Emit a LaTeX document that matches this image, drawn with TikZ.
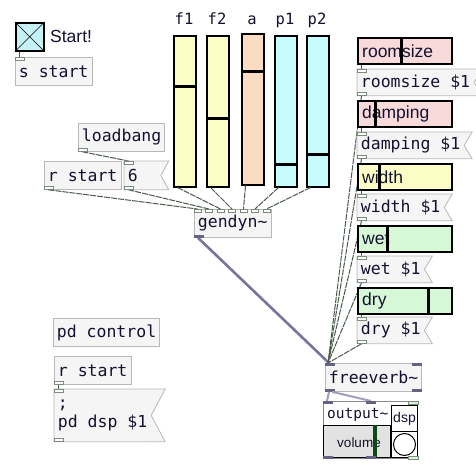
\documentclass[tikz,border=0pt]{standalone}
\usepackage{fontspec}
\usepackage{xcolor}
\usepackage{tikz}
\newfontfamily\pdmono{DejaVu Sans Mono}
\newfontfamily\pdsans{Liberation Sans}

\definecolor{boxfill}{HTML}{F5F5F5}
\definecolor{boxline}{HTML}{B8B8B8}
\definecolor{ink}{HTML}{121230}
\definecolor{wire}{HTML}{4A5A4A}
\definecolor{sigwire}{HTML}{77759A}
\definecolor{nubline}{HTML}{7C8C7C}
\definecolor{yel}{HTML}{FCFCC6}
\definecolor{peach}{HTML}{F9DCC2}
\definecolor{aqua}{HTML}{C6FCFC}
\definecolor{rose}{HTML}{F9DADA}
\definecolor{mint}{HTML}{D6F8D6}
\definecolor{tglfill}{HTML}{C6F2F6}
\definecolor{volfill}{HTML}{E2E2E2}
\definecolor{volknob}{HTML}{0B4A12}
\definecolor{gopline}{HTML}{8A8A8A}
\definecolor{outnub}{HTML}{DDF2DD}

\tikzset{
  obj/.style={draw=boxline, fill=boxfill, anchor=north west, inner xsep=3.5pt,
    inner ysep=0pt, minimum height=28pt, text=ink, line width=0.8pt,
    font=\pdmono\fontsize{16.5}{18.5}\selectfont},
  msg/.style={obj, draw=none},
  tgl/.style={draw=black, fill=tglfill, line width=1.5pt, minimum size=28pt,
    anchor=north west, inner sep=0pt},
  vsl/.style={draw=black, line width=1.5pt, anchor=north west, minimum width=22pt,
    minimum height=151pt, inner sep=0pt},
  hsl/.style={draw=black, line width=1.5pt, anchor=north west, minimum width=94pt,
    minimum height=26pt, inner sep=0pt},
  knob/.style={line width=3pt},
  ctl/.style={draw=wire, line width=1pt, dash pattern=on 6pt off 1pt},
  sig/.style={draw=sigwire, line width=2.6pt},
  nub/.style={draw=nubline, fill=white, line width=0.7pt},
  signub/.style={fill=sigwire!85!black},
  lbl/.style={text=ink, inner sep=0pt, font=\pdsans\fontsize{17.5}{19}\selectfont},
  sltitle/.style={text=ink, inner sep=0pt, font=\pdmono\fontsize{15.5}{17}\selectfont},
}

\begin{document}
\begin{tikzpicture}[x=1pt, y=-1pt]
\path[fill=white] (0,0) rectangle (476,463);
\useasboundingbox (0,0) rectangle (476,463);

% start toggle
\node[tgl] (tgl) at (15,22) {};
\draw (tgl.north west) -- (tgl.south east) (tgl.north east) -- (tgl.south west);
\node[lbl, anchor=west] (startlbl) at (50,36) {Start!};
\node[obj] (sstart) at (15,57) {s start};
\draw[ctl] ([xshift=4.5pt]tgl.south west) -- ([xshift=4.5pt]sstart.north west);
\draw[nub] (sstart.north west) rectangle +(9,3);

% gendyn~ and its parameter sliders
\foreach \n/\x/\y/\h/\c in {f1/173/35/86/yel, f2/206/35/118/yel, a/241/33/71/peach,
    p1/274/35/164/aqua, p2/306/35/154/aqua} {
  \node[vsl, fill=\c] (\n) at (\x,\y) {};
  \draw[knob] (\x,\h) -- ++(22,0);
  \node[sltitle, anchor=base] at (\x+11,24) {\n};
}
\node[obj] (loadbang) at (78,123) {loadbang};
\node[obj] (rstart) at (44,161) {r start};
\node[msg, text width=29pt, align=left] (six) at (124,161) {6};
\node[obj] (gendyn) at (194,209) {gendyn\textasciitilde};
\draw[ctl] ([xshift=4.5pt]loadbang.south west) -- ([xshift=4.5pt]six.north west);
\draw[nub] (loadbang.south west) rectangle +(9,-3);
\draw[nub] (rstart.south west) rectangle +(9,-3);
\foreach \s [count=\i from 0] in {rstart,six,f1,f2,a,p1,p2} {
  \draw[ctl] ([xshift=4.5pt]\s.south west) -- ([xshift={3.5pt+11.5pt*\i}]gendyn.north west);
  \draw[nub] ([xshift={11.5pt*\i}]gendyn.north west) rectangle +(7,3);
}

% reverb
\node[obj] (freeverb) at (325,363) {freeverb\textasciitilde};
\draw[sig] ([xshift=4pt]gendyn.south west) -- ([xshift=4pt]freeverb.north west);
\fill[signub] (gendyn.south west) rectangle +(10,-3);

\foreach \n/\y/\h/\c/\my in {roomsize/37/401/rose/69, damping/100/375/rose/132,
    width/163/379/yel/194, wet/225/387/mint/256, dry/287/428/mint/317} {
  \node[hsl, fill=\c] (\n) at (357,\y) {};
  \node[lbl, anchor=west] at ([xshift=5pt]\n.west) {\n};
  \draw[knob] (\h,\y) -- ++(0,26);
  \node[msg, minimum height=26pt] (\n-msg) at (357,\my) {\n\ \$1};
  \draw[ctl] ([xshift=4.5pt]\n.south west) -- ([xshift=4.5pt]\n-msg.north west);
  \draw[ctl] ([xshift=4.5pt]\n-msg.south west) -- ([xshift=3pt]freeverb.north west);
}
\fill[signub] (freeverb.north west) rectangle +(10,3);
\fill[signub] ([xshift=-10pt]freeverb.north east) rectangle +(10,3);
\fill[signub] (freeverb.south west) rectangle +(10,-3);
\fill[signub] ([xshift=-10pt]freeverb.south east) rectangle +(10,-3);

% dsp switch
\node[obj] (pdctl) at (53,318) {pd control};
\node[obj] (rstart2) at (54,356) {r start};
\node[msg, minimum height=52pt, align=left] (dspmsg) at (54,389) {;\\pd dsp \$1};
\draw[ctl] ([xshift=4.5pt]rstart2.south west) -- ([xshift=4.5pt]dspmsg.north west);
\draw[nub] (rstart2.south west) rectangle +(9,-3);

% message box flags
\foreach \m/\d in {six/8, roomsize-msg/8, damping-msg/8, width-msg/8, wet-msg/8,
    dry-msg/8, dspmsg/14} {
  \fill[boxfill] (\m.north east) -- ([xshift=\d pt]\m.north east) -- (\m.east)
    -- ([xshift=\d pt]\m.south east) -- (\m.south east) -- cycle;
  \draw[boxline, line width=0.8pt] (\m.north west) -- ([xshift=\d pt]\m.north east)
    -- (\m.east) -- ([xshift=\d pt]\m.south east) -- (\m.south west) -- cycle;
  \draw[nub] (\m.north west) rectangle +(9,3);
  \draw[nub] (\m.south west) rectangle +(9,-3);
}

% output~ abstraction
\node[draw=gopline, fill=white, line width=1pt, anchor=north west, minimum width=94pt,
  minimum height=57pt, inner sep=0pt] (output) at (323,401) {};
\node[anchor=base west, inner sep=0pt, text=ink, font=\pdmono\fontsize{14.5}{16}\selectfont]
  (outlbl) at (327,418) {output\textasciitilde};
\node[draw=black, fill=volfill, line width=1pt, anchor=north west, minimum width=67pt,
  minimum height=32pt, inner sep=0pt] (volume) at (323,425) {};
\node[lbl, font=\pdsans\fontsize{13.5}{15}\selectfont] at (359,443) {volume};
\draw[volknob, line width=4pt] (375,425) -- (375,457);
\node[draw=black, line width=1pt, anchor=north west, minimum size=26pt, inner sep=0pt,
  text=ink, font=\pdsans\fontsize{14}{15}\selectfont] (dsp) at (391,405) {dsp};
\node[draw=black, line width=1pt, anchor=north west, minimum size=26pt, inner sep=0pt]
  (bng) at (391,431) {};
\draw[line width=1pt] (bng.center) circle (11pt);
\draw[sig, line width=2pt, sigwire!70] ([xshift=4pt]freeverb.south west) -- ([xshift=4pt]output.north west);
\draw[sig, line width=2pt, sigwire!70] ([xshift=7pt]freeverb.south west) -- ([xshift=48pt]output.north west);
\fill[signub] (output.north west) rectangle +(10,3);
\fill[signub] ([xshift=43pt]output.north west) rectangle +(10,3);
\draw[nub, fill=outnub] ([xshift=-10pt]output.north east) rectangle +(10,3);
\fill[signub] (output.south west) rectangle +(10,-3);
\fill[signub] ([xshift=43pt]output.south west) rectangle +(10,-3);
\draw[nub, fill=outnub] ([xshift=-10pt]output.south east) rectangle +(10,-3);
\end{tikzpicture}
\end{document}
